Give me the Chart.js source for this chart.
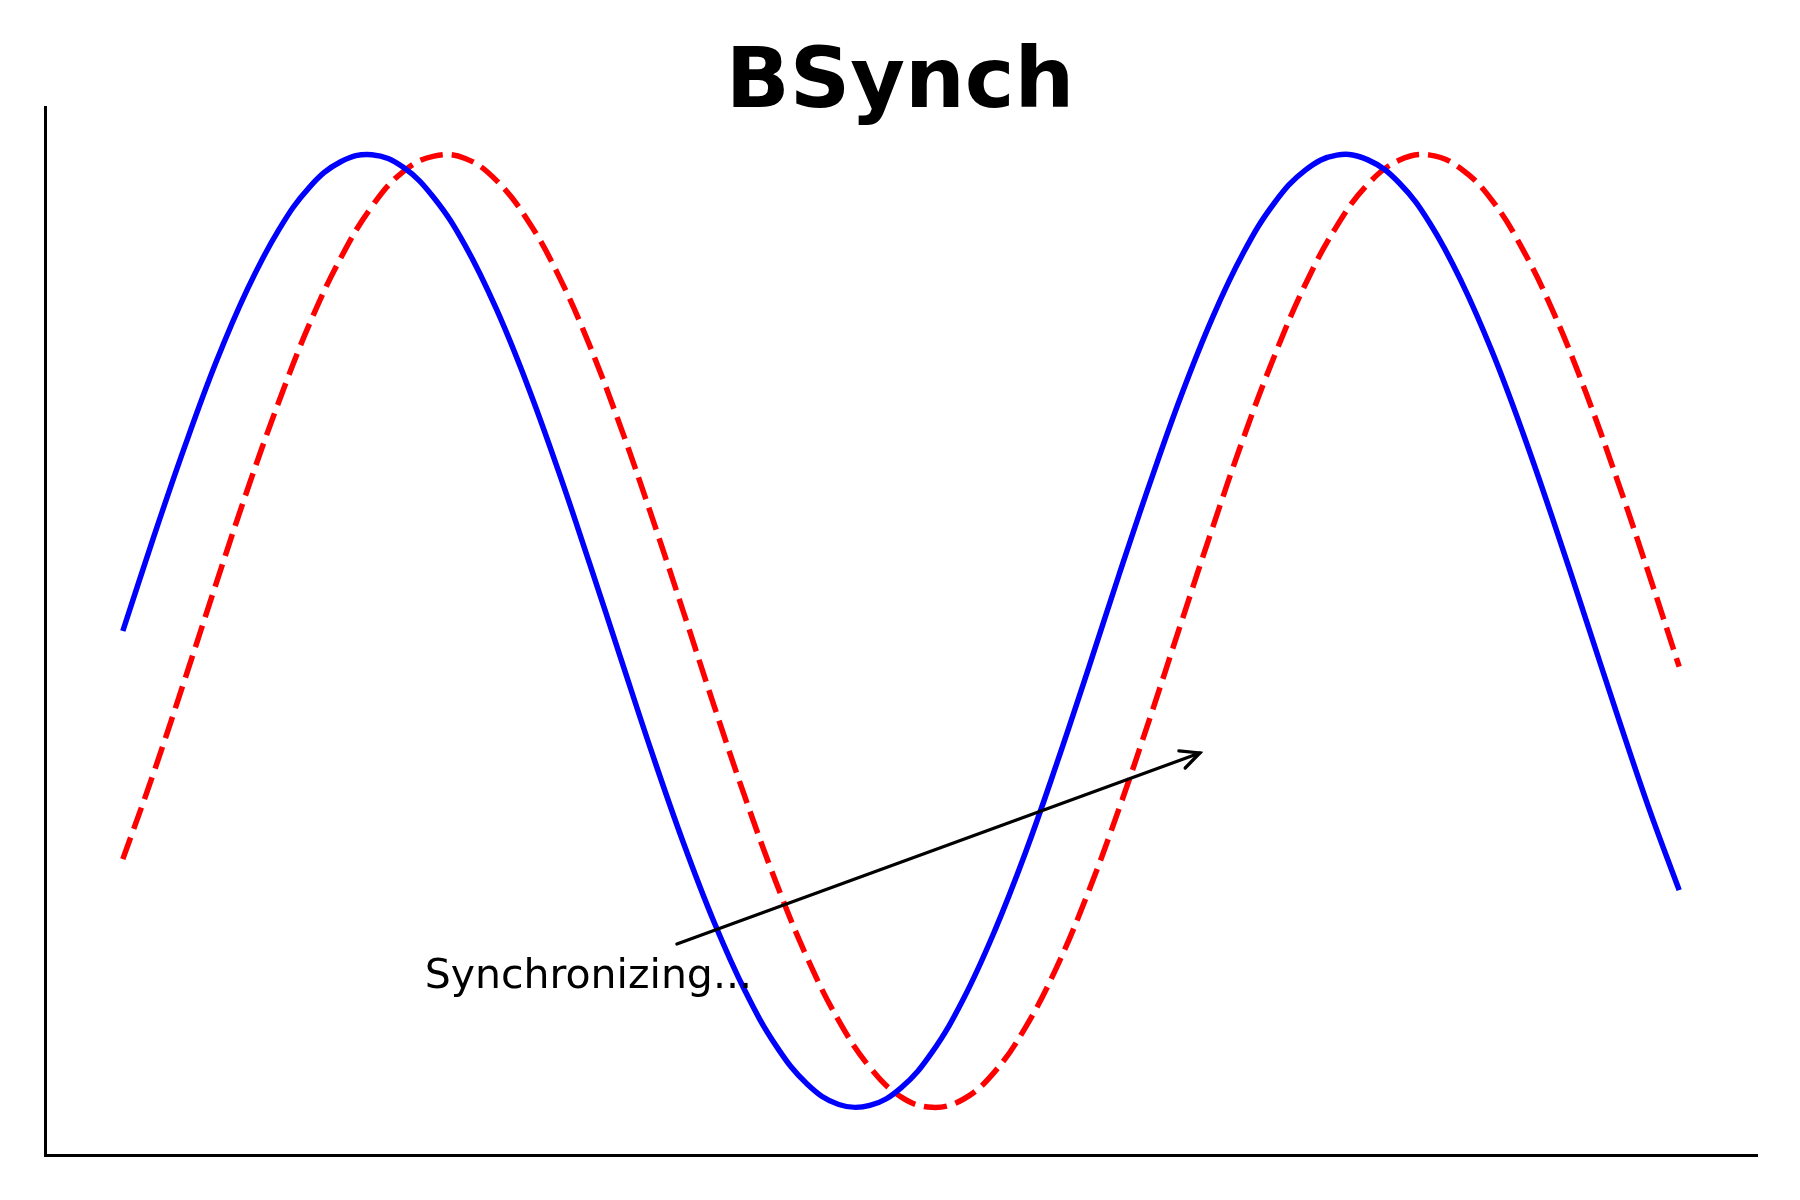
<!DOCTYPE html>
<html>
<head>
<meta charset="utf-8">
<script src="https://cdn.jsdelivr.net/npm/chart.js@4.4.1/dist/chart.umd.min.js"></script>
<style>
  html, body { margin: 0; padding: 0; background: #fff; }
  #wrap { width: 1800px; height: 1200px; }
</style>
</head>
<body>
<div id="wrap"><canvas id="myChart" width="1800" height="1200"></canvas></div>
<script>
// x positions of the samples
const xs = [0, 0.2, 0.4, 0.6, 0.8, 1, 1.2, 1.4, 1.6, 1.8, 2, 2.2, 2.4, 2.6, 2.8, 3, 3.2, 3.4, 3.6, 3.8, 4,
  4.2, 4.4, 4.6, 4.8, 5, 5.2, 5.4, 5.6, 5.8, 6, 6.2, 6.4, 6.6, 6.8, 7, 7.2, 7.4, 7.6, 7.8, 8,
  8.2, 8.4, 8.6, 8.8, 9, 9.2, 9.4, 9.6, 9.8, 10];

// blue solid wave
const blueWave = [0, .199, .389, .565, .717, .841, .932, .985, 1.0, .974, .909,
  .809, .676, .516, .335, .141, -.058, -.256, -.443, -.612, -.757,
  -.872, -.952, -.994, -.996, -.959, -.884, -.773, -.631, -.465, -.279,
  -.083, .117, .311, .494, .657, .794, .899, .968, .999, .989,
  .941, .855, .734, .585, .412, .223, .025, -.174, -.367, -.544];

// red dashed wave (lagging)
const redWave = [-.479, -.296, -.100, .100, .296, .479, .645, .783, .891, .964, .997,
  .992, .946, .863, .746, .599, .427, .239, .042, -.158, -.351,
  -.530, -.688, -.818, -.916, -.978, -1.0, -.983, -.926, -.832, -.706,
  -.551, -.374, -.182, .017, .215, .405, .578, .729, .850, .938,
  .988, .999, .970, .903, .798, .663, .501, .319, .125, -.075];

const titleText = 'BSynch';
const noteText = 'Synchronizing...';
const noteAt = [1.94, -0.75];      // text anchor (left, baseline)
const arrowFrom = [3.56, -0.657];
const arrowTo = [6.92, -0.256];

const toPoints = (ys) => ys.map((y, i) => ({ x: xs[i], y: y }));

// title + annotation drawn on the canvas
const extras = {
  id: 'extras',
  afterDraw(chart) {
    const c = chart.ctx;
    const sx = chart.scales.x, sy = chart.scales.y;
    c.save();
    c.fillStyle = '#000';
    c.textAlign = 'center';
    c.textBaseline = 'alphabetic';
    c.font = 'bold 84px "DejaVu Sans"';
    c.fillText(titleText, 900, 107);

    c.textAlign = 'left';
    c.font = '41px "DejaVu Sans"';
    c.fillText(noteText, sx.getPixelForValue(noteAt[0]), sy.getPixelForValue(noteAt[1]));

    const x1 = sx.getPixelForValue(arrowFrom[0]), y1 = sy.getPixelForValue(arrowFrom[1]);
    const x2 = sx.getPixelForValue(arrowTo[0]), y2 = sy.getPixelForValue(arrowTo[1]);
    c.strokeStyle = '#000';
    c.lineWidth = 3.3;
    c.lineCap = 'round';
    c.beginPath();
    c.moveTo(x1, y1);
    c.lineTo(x2, y2);
    c.stroke();
    const ang = Math.atan2(y2 - y1, x2 - x1);
    const hl = 21, ha = Math.PI / 7;
    c.beginPath();
    c.moveTo(x2 - hl * Math.cos(ang - ha), y2 - hl * Math.sin(ang - ha));
    c.lineTo(x2, y2);
    c.lineTo(x2 - hl * Math.cos(ang + ha), y2 - hl * Math.sin(ang + ha));
    c.stroke();
    c.restore();
  }
};

const ctx = document.getElementById('myChart');

new Chart(ctx, {
  type: 'line',
  data: {
    datasets: [{
      data: toPoints(blueWave),
      borderColor: '#0000ff',
      borderWidth: 5.5,
      pointRadius: 0,
      tension: 0.4
    }, {
      data: toPoints(redWave),
      borderColor: '#ff0000',
      borderWidth: 5.5,
      borderDash: [23, 9],
      pointRadius: 0,
      tension: 0.4
    }]
  },
  options: {
    responsive: false,
    animation: false,
    layout: {
      padding: { left: 45, right: 43, top: 107, bottom: 45 }
    },
    scales: {
      x: {
        type: 'linear',
        min: -0.5,
        max: 10.5,
        grid: { display: false, drawTicks: false },
        ticks: { display: false },
        border: { display: true, color: '#000', width: 3 }
      },
      y: {
        min: -1.1,
        max: 1.1,
        grid: { display: false, drawTicks: false },
        ticks: { display: false },
        border: { display: true, color: '#000', width: 3 }
      }
    },
    plugins: {
      legend: { display: false },
      tooltip: { enabled: false }
    }
  },
  plugins: [extras]
});
</script>
</body>
</html>
